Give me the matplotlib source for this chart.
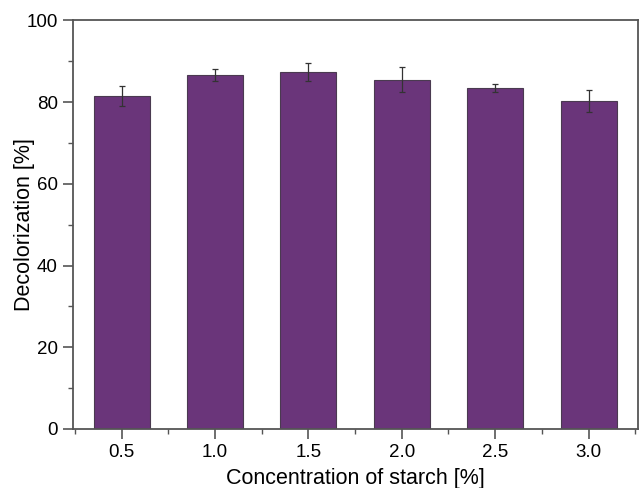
import numpy as np
from matplotlib import pyplot as plt
from matplotlib.ticker import MultipleLocator

plt.rcParams['font.family'] = ['Liberation Sans', 'DejaVu Sans']

# data
concentration = [0.5, 1.0, 1.5, 2.0, 2.5, 3.0]
tick_labels = ['0.5', '1.0', '1.5', '2.0', '2.5', '3.0']
decolorization = [81.5, 86.6, 87.5, 85.5, 83.5, 80.3]
error = [2.4, 1.5, 2.2, 3.1, 1.0, 2.6]

axis_color = '#555555'

fig = plt.figure(figsize=(6.4, 4.88), dpi=100)
ax = fig.add_axes([0.114, 0.121, 0.883, 0.837])

ax.bar(concentration, decolorization, width=0.3, color='#6a357a', edgecolor='#4a3a50', linewidth=0.8,
       yerr=error, error_kw=dict(ecolor='#333333', elinewidth=0.9, capsize=2.5, capthick=0.9))

ax.set_xlim(0.24, 3.265)
ax.set_ylim(0, 100)
ax.set_xticks(concentration)
ax.set_xticklabels(tick_labels)
ax.xaxis.set_minor_locator(MultipleLocator(0.25))
ax.yaxis.set_major_locator(MultipleLocator(20))
ax.yaxis.set_minor_locator(MultipleLocator(10))

for side in ['left', 'right', 'top', 'bottom']:
    ax.spines[side].set_color(axis_color)
    ax.spines[side].set_linewidth(1.3)

ax.tick_params(axis='both', which='major', direction='out', length=7, width=1.2, color=axis_color,
               labelsize=13.5, labelcolor='black', pad=4)
ax.tick_params(axis='both', which='minor', direction='out', length=3.5, width=1.0, color=axis_color)

ax.set_xlabel('Concentration of starch [%]', fontsize=15.5, labelpad=5)
ax.set_ylabel('Decolorization [%]', fontsize=15.5)
ax.yaxis.set_label_coords(-0.068, 0.5)

plt.savefig('out.png', dpi=100)
